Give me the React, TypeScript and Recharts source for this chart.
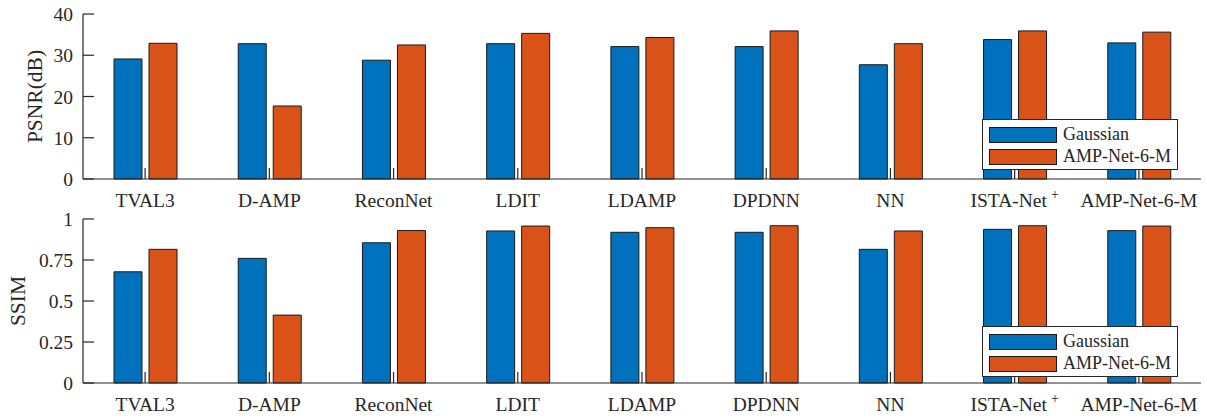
import React from "react";
import { Bar, BarChart, Legend, XAxis, YAxis } from "recharts";

const categories = [
  "TVAL3",
  "D-AMP",
  "ReconNet",
  "LDIT",
  "LDAMP",
  "DPDNN",
  "NN",
  "ISTA-Net+",
  "AMP-Net-6-M",
];

const psnrGaussian = [29.1, 32.8, 28.8, 32.8, 32.1, 32.1, 27.7, 33.8, 33.0];
const psnrAmp = [32.9, 17.7, 32.5, 35.3, 34.3, 35.9, 32.8, 35.9, 35.6];
const ssimGaussian = [0.678, 0.76, 0.855, 0.927, 0.919, 0.919, 0.815, 0.937, 0.929];
const ssimAmp = [0.815, 0.414, 0.93, 0.957, 0.947, 0.959, 0.927, 0.959, 0.957];

const psnrTicks = [0, 10, 20, 30, 40];
const ssimTicks = [0, 0.25, 0.5, 0.75, 1];
const psnrTickLabels = ["0", "10", "20", "30", "40"];
const ssimTickLabels = ["0", "0.25", "0.5", "0.75", "1"];
const seriesOrder = ["gaussian", "amp"];

const FONT = "'Liberation Serif', 'Times New Roman', serif";
const INK = "#262626";
const BLUE = "#0072BD";
const ORANGE = "#D95319";
const TICK_LEN = 11;

const psnrData = categories.map((name, i) => ({
  name,
  gaussian: psnrGaussian[i],
  amp: psnrAmp[i],
}));
const ssimData = categories.map((name, i) => ({
  name,
  gaussian: ssimGaussian[i],
  amp: ssimAmp[i],
}));

function BottomTick(props: any) {
  const { x, y, payload } = props;
  const v: string = payload.value;
  const sup = v.endsWith("+");
  return (
    <g>
      <line x1={x} x2={x} y1={y} y2={y - TICK_LEN} stroke={INK} strokeWidth={1.2} />
      <text
        x={x}
        y={y + 28}
        textAnchor="middle"
        fontFamily={FONT}
        fontSize={19.5}
        fill={INK}
      >
        {sup ? v.slice(0, -1) : v}
        {sup && (
          <tspan dx={4} dy={-8} fontSize={14}>
            +
          </tspan>
        )}
      </text>
    </g>
  );
}

function TopTick(props: any) {
  const { x, y } = props;
  return <line x1={x} x2={x} y1={y} y2={y + TICK_LEN} stroke={INK} strokeWidth={1.2} />;
}

function makeLeftTick(labels: string[], ticks: number[]) {
  return function LeftTick(props: any) {
    const { x, y, payload } = props;
    const idx = ticks.indexOf(payload.value);
    return (
      <g>
        <line x1={x} x2={x + TICK_LEN} y1={y} y2={y} stroke={INK} strokeWidth={1.2} />
        <text
          x={x - 10}
          y={y + 7}
          textAnchor="end"
          fontFamily={FONT}
          fontSize={19.5}
          fill={INK}
        >
          {idx >= 0 ? labels[idx] : payload.value}
        </text>
      </g>
    );
  };
}

function RightTick(props: any) {
  const { x, y } = props;
  return <line x1={x} x2={x - TICK_LEN} y1={y} y2={y} stroke={INK} strokeWidth={1.2} />;
}

function LegendBox(props: any) {
  const items = [...(props.payload || [])].sort(
    (a: any, b: any) => seriesOrder.indexOf(a.dataKey) - seriesOrder.indexOf(b.dataKey),
  );
  return (
    <div
      style={{
        width: 196,
        height: 51,
        boxSizing: "border-box",
        border: `1px solid ${INK}`,
        background: "#fff",
        padding: "6px 0 0 6px",
        fontFamily: FONT,
        fontSize: 18,
        color: INK,
      }}
    >
      {items.map((it: any, i: number) => (
        <div
          key={i}
          style={{ display: "flex", alignItems: "center", height: 17, marginBottom: 5 }}
        >
          <div
            style={{
              width: 68,
              height: 16,
              boxSizing: "border-box",
              background: it.color,
              border: "1px solid #1a1a1a",
              marginRight: 6,
            }}
          />
          <span style={{ lineHeight: "17px" }}>{it.value}</span>
        </div>
      ))}
    </div>
  );
}

function Panel({
  data,
  height,
  marginTop,
  xAxisHeight,
  domain,
  ticks,
  tickLabels,
  yLabel,
  yLabelX,
  legendTop,
}: {
  data: { name: string; gaussian: number; amp: number }[];
  height: number;
  marginTop: number;
  xAxisHeight: number;
  domain: [number, number];
  ticks: number[];
  tickLabels: string[];
  yLabel: string;
  yLabelX: number;
  legendTop: number;
}) {
  const plotH = height - marginTop - xAxisHeight;
  const cy = marginTop + plotH / 2;
  const LeftTick = makeLeftTick(tickLabels, ticks);
  return (
    <div style={{ position: "relative", width: 1207, height }}>
      <BarChart
        width={1207}
        height={height}
        data={data}
        margin={{ top: marginTop, right: 6, bottom: 0, left: 0 }}
        barSize={28}
        barGap={7}
      >
        <XAxis
          xAxisId="b"
          dataKey="name"
          interval={0}
          height={xAxisHeight}
          tickSize={0}
          tickMargin={0}
          axisLine={{ stroke: INK, strokeWidth: 1.2 }}
          tickLine={false}
          tick={BottomTick}
        />
        <XAxis
          xAxisId="t"
          dataKey="name"
          orientation="top"
          interval={0}
          height={0}
          tickSize={0}
          tickMargin={0}
          axisLine={{ stroke: INK, strokeWidth: 1.2 }}
          tickLine={false}
          tick={TopTick}
        />
        <YAxis
          yAxisId="l"
          width={83}
          domain={domain}
          ticks={ticks}
          interval={0}
          tickSize={0}
          tickMargin={0}
          axisLine={{ stroke: INK, strokeWidth: 1.2 }}
          tickLine={false}
          tick={LeftTick}
        />
        <YAxis
          yAxisId="r"
          orientation="right"
          width={0}
          domain={domain}
          ticks={ticks}
          interval={0}
          tickSize={0}
          tickMargin={0}
          axisLine={{ stroke: INK, strokeWidth: 1.2 }}
          tickLine={false}
          tick={RightTick}
        />
        <Bar
          xAxisId="b"
          yAxisId="l"
          dataKey="gaussian"
          name="Gaussian"
          fill={BLUE}
          stroke="#1a1a1a"
          strokeWidth={1}
          isAnimationActive={false}
        />
        <Bar
          xAxisId="b"
          yAxisId="l"
          dataKey="amp"
          name="AMP-Net-6-M"
          fill={ORANGE}
          stroke="#1a1a1a"
          strokeWidth={1}
          isAnimationActive={false}
        />
        <Legend
          layout="vertical"
          align="center"
          verticalAlign="middle"
          content={LegendBox}
          wrapperStyle={{ left: 982, top: legendTop, width: 196, height: 51 }}
        />
        <text
          x={yLabelX}
          y={cy}
          transform={`rotate(-90, ${yLabelX}, ${cy})`}
          textAnchor="middle"
          dominantBaseline="central"
          fontFamily={FONT}
          fontSize={21.5}
          fill={INK}
        >
          {yLabel}
        </text>
      </BarChart>
    </div>
  );
}

export default function App() {
  return (
    <div
      style={{
        position: "absolute",
        left: 0,
        top: 0,
        width: 1207,
        height: 418,
        background: "#fff",
      }}
    >
      <Panel
        data={psnrData}
        height={210}
        marginTop={14}
        xAxisHeight={31}
        domain={[0, 40]}
        ticks={psnrTicks}
        tickLabels={psnrTickLabels}
        yLabel="PSNR(dB)"
        yLabelX={35}
        legendTop={119}
      />
      <Panel
        data={ssimData}
        height={208}
        marginTop={9}
        xAxisHeight={35}
        domain={[0, 1]}
        ticks={ssimTicks}
        tickLabels={ssimTickLabels}
        yLabel="SSIM"
        yLabelX={18}
        legendTop={116}
      />
    </div>
  );
}
